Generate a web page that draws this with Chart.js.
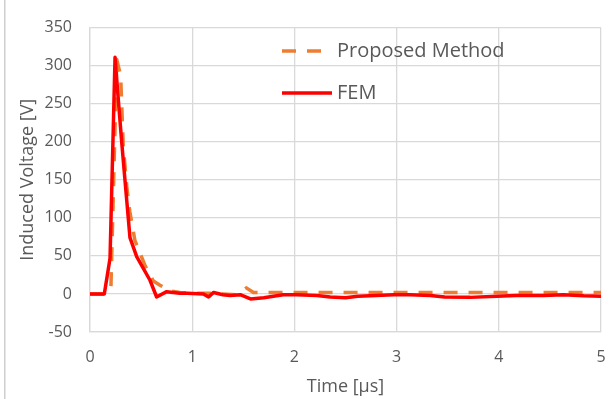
<!DOCTYPE html>
<html>
<head>
<meta charset="utf-8">
<script src="https://cdn.jsdelivr.net/npm/chart.js"></script>
<style>
  html, body { margin: 0; padding: 0; background: #fff; }
  #wrap { position: relative; width: 614px; height: 399px; }
</style>
</head>
<body>
<div id="wrap"><canvas id="voltChart" width="614" height="399"></canvas></div>
<script>
// Induced voltage vs time, proposed method against FEM
const propTime = [0, 0.15, 0.205, 0.262, 0.30, 0.325, 0.36, 0.39, 0.44, 0.54, 0.62, 0.685, 0.78, 0.88, 1.0, 1.15, 1.3, 1.43, 1.53, 1.6, 2.0, 2.5, 3.0, 3.5, 4.0, 4.5, 5.0];
const propVolt = [0, 0, 10, 308, 287, 195, 141, 108, 70, 37, 17, 11.5, 4, 2, 1, 1, 0, -1, 8, 2, 2, 2, 2, 2, 2, 2, 2];

const femTime = [0, 0.14, 0.196, 0.245, 0.28, 0.31, 0.342, 0.391, 0.457, 0.587, 0.652, 0.75, 0.88, 0.95, 1.11, 1.16, 1.21, 1.30, 1.37, 1.47, 1.57, 1.70, 1.89, 2.02, 2.22, 2.35, 2.50, 2.62, 2.80, 2.97, 3.13, 3.33, 3.47, 3.72, 3.98, 4.17, 4.44, 4.63, 4.83, 5.0];
const femVolt = [0, 0, 47, 311, 250, 200, 150, 74, 49, 18, -4, 3, 1, 1, 0, -4, 2, -1, -2, -1, -6.5, -5, -1, -1, -2, -4, -5, -3, -2, -1, -1, -2, -4, -4.5, -3, -2, -2, -1, -2.5, -3];

const xTicks = [0, 1, 2, 3, 4, 5];
const yTicks = [-50, 0, 50, 100, 150, 200, 250, 300, 350];

const seriesNames = ['Proposed Method', 'FEM'];
const FONT = '"Open Sans", sans-serif';
const TEXT = '#595959';
const GRID = '#d9d9d9';

const toPoints = (xs, ys) => xs.map((x, i) => ({ x: x, y: ys[i] }));

// legend drawn inside the plot area, upper right
const innerLegend = {
  id: 'innerLegend',
  afterDraw(chart) {
    const ctx = chart.ctx;
    const rows = [
      { ds: chart.data.datasets[0], y: 51 },
      { ds: chart.data.datasets[1], y: 93 }
    ];
    ctx.save();
    rows.forEach(r => {
      ctx.strokeStyle = r.ds.borderColor;
      ctx.lineWidth = r.ds.borderWidth;
      ctx.setLineDash(r.ds.borderDash || []);
      ctx.beginPath();
      ctx.moveTo(282, r.y);
      ctx.lineTo(332, r.y);
      ctx.stroke();
      ctx.setLineDash([]);
      ctx.fillStyle = TEXT;
      ctx.font = '20px ' + FONT;
      ctx.textBaseline = 'middle';
      ctx.fillText(r.ds.label, 337, r.y);
    });
    ctx.restore();
  }
};

// thin page rule on the left edge
const pageRule = {
  id: 'pageRule',
  beforeDraw(chart) {
    const ctx = chart.ctx;
    ctx.save();
    ctx.fillStyle = '#cfcfcf';
    ctx.fillRect(4, 0, 1.5, chart.height);
    ctx.restore();
  }
};

new Chart(document.getElementById('voltChart'), {
  type: 'line',
  data: {
    datasets: [
      {
        label: seriesNames[0],
        data: toPoints(propTime, propVolt),
        borderColor: '#ED7D31',
        borderWidth: 3.5,
        borderDash: [14, 11],
        borderJoinStyle: 'round',
        pointRadius: 0,
        order: 1
      },
      {
        label: seriesNames[1],
        data: toPoints(femTime, femVolt),
        borderColor: '#FF0000',
        borderWidth: 3.5,
        borderJoinStyle: 'round',
        pointRadius: 0,
        order: 0
      }
    ]
  },
  options: {
    responsive: false,
    animation: false,
    layout: { padding: { left: 0, top: 14, right: 13, bottom: 0 } },
    plugins: { legend: { display: false }, tooltip: { enabled: false } },
    scales: {
      x: {
        type: 'linear',
        min: 0, max: 5,
        afterBuildTicks: s => { s.ticks = xTicks.map(v => ({ value: v })); },
        afterFit: s => { s.height = 67; s.paddingLeft = 0; s.paddingRight = 0; },
        grid: { color: GRID, lineWidth: 1.3, drawTicks: false },
        border: { color: GRID, width: 1.3 },
        ticks: { color: TEXT, font: { family: FONT, size: 16 }, padding: 16, maxRotation: 0 },
        title: { display: true, text: 'Time [µs]', color: TEXT, font: { family: FONT, size: 18 }, padding: { top: 2, bottom: 1 } }
      },
      y: {
        min: -50, max: 350,
        afterBuildTicks: s => { s.ticks = yTicks.map(v => ({ value: v })); },
        afterFit: s => { s.width = 90; },
        grid: { color: GRID, lineWidth: 1.3, drawTicks: false },
        border: { color: GRID, width: 1.3 },
        ticks: { color: TEXT, font: { family: FONT, size: 16 }, padding: 18 },
        title: { display: true, text: 'Induced Voltage [V]', color: TEXT, font: { family: FONT, size: 18 }, padding: { top: 17, bottom: 0 } }
      }
    }
  },
  plugins: [pageRule, innerLegend]
});
</script>
</body>
</html>
